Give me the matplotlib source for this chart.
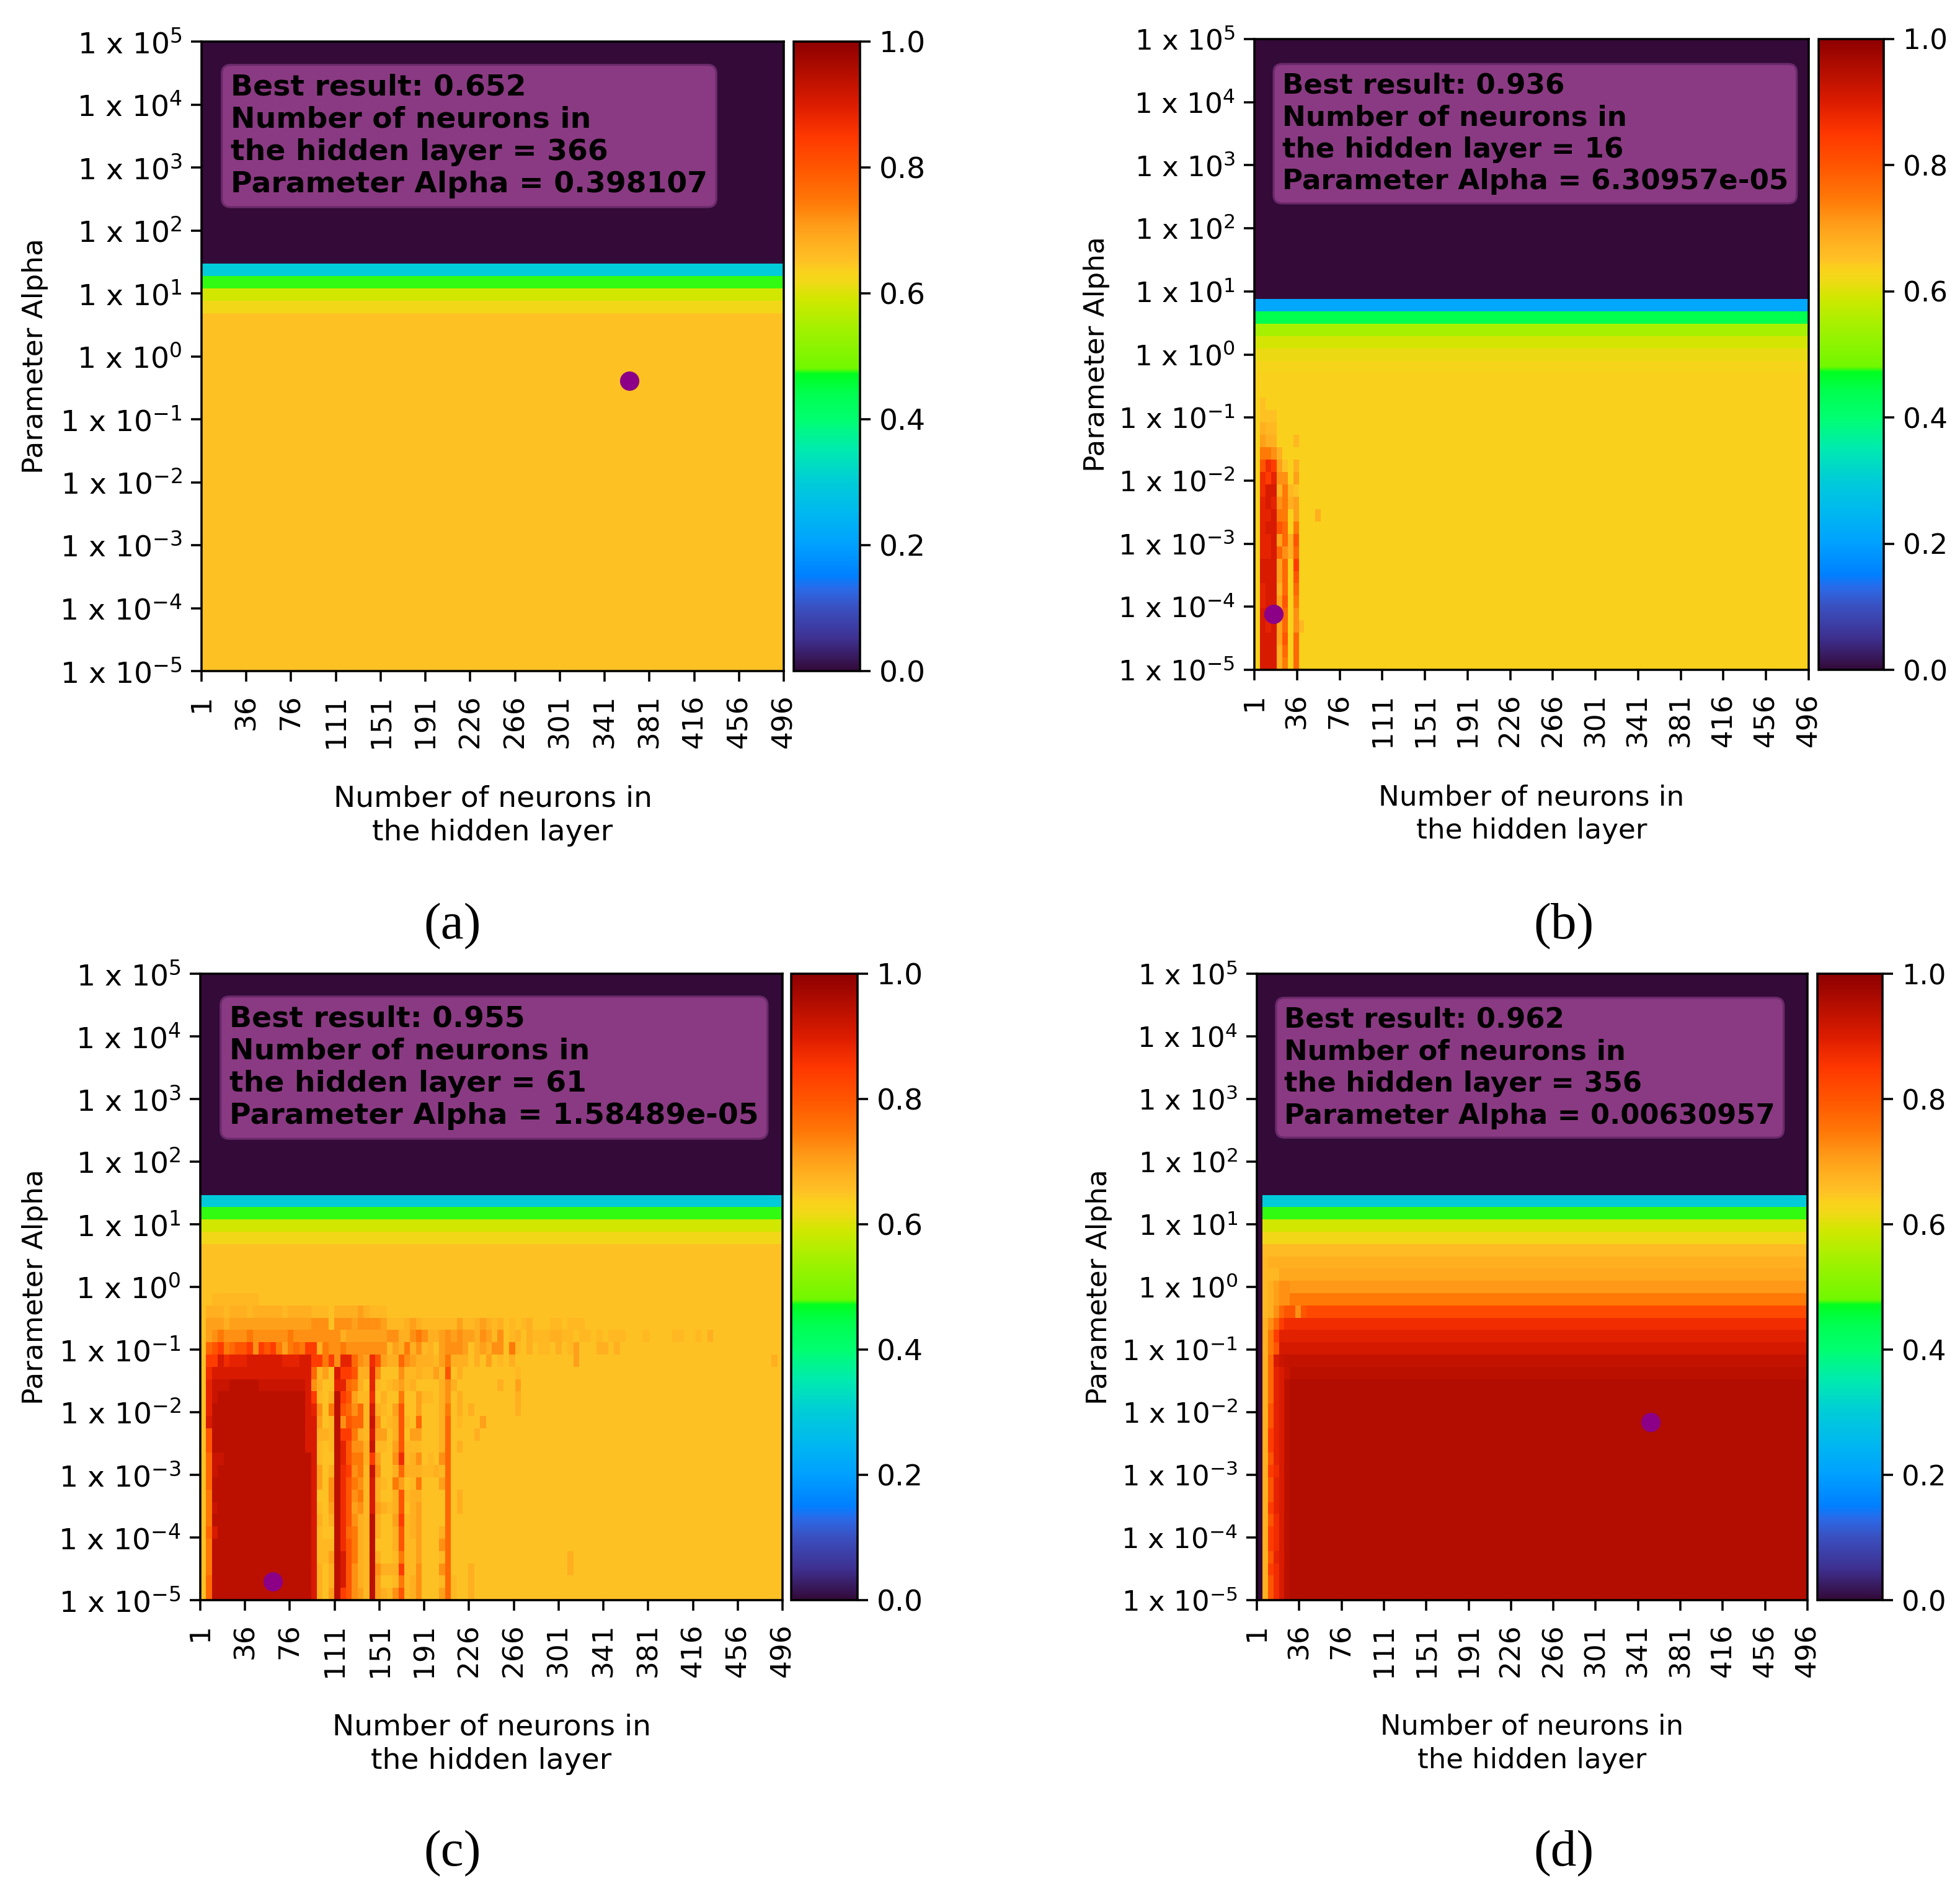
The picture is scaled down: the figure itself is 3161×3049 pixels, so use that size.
import matplotlib
matplotlib.use("Agg")
import matplotlib.pyplot as plt
from matplotlib.colors import LinearSegmentedColormap
import numpy as np

W, H = 3161, 3049

# heatmap axes: alpha 1e-5..1e5 in 51 rows, neurons 1..496 in 100 columns
tick_neurons = [1, 36, 76, 111, 151, 191, 226, 266, 301, 341, 381, 416, 456, 496]
tick_exponents = [-5, -4, -3, -2, -1, 0, 1, 2, 3, 4, 5]

# colour bar
cmap_stops = [(0.0, "#330a38"), (0.05, "#3e3090"), (0.1, "#3a50c0"), (0.13, "#2a6ae8"),
              (0.15, "#0080ff"), (0.2, "#00a0ff"), (0.25, "#00b8f0"), (0.3, "#00ccd8"),
              (0.35, "#00eab0"), (0.4, "#00ff70"), (0.44, "#00ff50"), (0.472, "#00ff20"),
              (0.48, "#70f800"), (0.55, "#a8f000"), (0.59, "#d0e800"), (0.62, "#f2d818"),
              (0.635, "#f9d21b"), (0.652, "#ffc125"), (0.68, "#ffb020"), (0.71, "#ff9a18"),
              (0.745, "#ff7a08"), (0.8, "#ff5500"), (0.85, "#ff3800"), (0.9, "#dc1c00"),
              (1.0, "#8e0000")]

# one char per cell in the blocks below, "." keeps the value of the whole row
codes = {"0": 0.0, "1": 0.652, "2": 0.665, "3": 0.68, "4": 0.70, "5": 0.72, "6": 0.745,
         "7": 0.77, "8": 0.80, "9": 0.84, "A": 0.87, "B": 0.885, "C": 0.905, "D": 0.925,
         "E": 0.94, "F": 0.953}

# value of each row from alpha 1e-5 upwards
rows_a = [0.652] * 29 + [0.62, 0.59, 0.476, 0.3] + [0.0] * 18
rows_b = [0.635] * 24 + [0.628, 0.615, 0.595, 0.55, 0.44, 0.215] + [0.0] * 21
rows_c = [0.652] * 29 + [0.62, 0.59, 0.476, 0.3] + [0.0] * 18
rows_d = [0.953] * 18 + [0.94, 0.93, 0.91, 0.89, 0.87, 0.82, 0.745, 0.71, 0.69, 0.68, 0.662,
                         0.62, 0.59, 0.476, 0.3] + [0.0] * 18

block_a = []

block_b = [
    ".CCC36.7",
    ".CCC37.7",
    ".CCC48.7",
    ".CBC47.52",
    ".CCC47.5",
    ".BCC48.6",
    ".BCC37.7",
    ".CCC47.8",
    ".CCC47.9",
    ".BBC7537",
    ".BBC4738",
    ".BCC87.6",
    ".BBC66.4...3",
    ".BCB5634",
    ".ACC3621",
    ".A9B55.4",
    ".8A941.3",
    ".6653",
    ".433...2",
    ".322",
    ".111",
    ".1",
]

block_c = [
    "17EEEEEEEEEEEEEEEEE" + "C314E98542E432582351114" + "72..3",
    "17EEEEEEEEEEEEEEEEE" + "C313EC8532E411262351112" + "72..3",
    "16EEEEEEEEEEEEEEEEE" + "C313EC8532E533392251115" + "7...3................3",
    "16EEEEEEEEEEEEEEEEE" + "C224EC8632E311262241112" + "7....................3",
    "16EEEEEEEEEEEEEEEEE" + "C222EA8632E111382241115" + "7",
    "17CEEEEEEEEEEEEEEEE" + "C211EA7632E311382341113" + "7",
    "16EEEEEEEEEEEEEEEEE" + "C313EA8532E311492341111" + "7",
    "16DEEEEEEEEEEEEEEEE" + "C214EA8452C432381341111" + "7.3",
    "16EEEEEEEEEEEEEEEEE" + "C115EA8562C311382331111" + "7.3",
    "17EEEEEEEEEEEEEEEEE" + "C415EA8652C321641261114" + "7",
    "17DEEEEEEEEEEEEEEEE" + "C413EA9562D511373332232" + "7",
    "17DDEEEEEEEEEEEEEEE" + "C211EB866394115A2351215" + "7",
    "18EEEEEEEEEEEEEEEEC" + "C212EB8553D221482221113" + "7.3",
    "18EEEEEEEEEEEEEEEEC" + "C332E99632C441381441113" + "7....3",
    "1CEEEEEEEEEEEEEEEEC" + "C412E58772D512382171113" + "7.2...4",
    "1BEEEEEEEEEEEEEEEEC" + "B516E87572C321481141113" + "6.3.3.......3",
    "1BDEEEEEEEEEEEEEEEC" + "9213E98422A131161142213" + "5.3.........3",
    "1BDDDEEEEEDDDDDDDDC" + "5311BB7631B212342311113" + "53.......3..4",
    "1ACCCCCCCCCCCCCCCCC" + "7241C99833B511152232242" + "8.3.........2",
    "199CABBBCCCCCCBBBCC" + "99695BB754A843375433324"
    + "6333.3.4.2.3..........4................................." + "3",
    "1789678895989646769" + "93655655555552436352314" + "5554.34355.62.3.22.3.24...33.3",
    "1456555565555556555" + "55555344444445533565334" + "54544354" + "25.23.3222" + "3322.22.2."
    + "222...2..." + ".22..2.3",
    "1444344444444444444" + "55515554555542223432222" + "2242234323.2.23...22.222",
    "1333233323333323333" + "2221333343222",
    "1.22222222",
]

block_d = [
    "038ACE", "038ACE", "039ACE", "038BCE", "039ACE", "039ACE", "038ACE",
    "039BCE", "038BCE", "038BCE", "039ACE", "038BCE", "039BCE", "039BCE",
    "038BCE", "038BCE", "037BCE", "037BCE", "037BCD", "037CD", "0368", "0369",
    "03579", "023578858", "02345566", "023455", "0222", "02", "0", "0", "0", "0", "0",
]

best_scores = ["0.652", "0.936", "0.955", "0.962"]
best_neurons = [366, 16, 61, 356]
best_alphas = ["0.398107", "6.30957e-05", "1.58489e-05", "0.00630957"]
panel_labels = ["(a)", "(b)", "(c)", "(d)"]

# pixel boxes left, right, top, bottom of heatmap and colour bar
boxes = [(325, 1264, 67, 1082), (2023, 2917, 63, 1080), (323, 1262, 1570, 2580), (2027, 2915, 1570, 2580)]
cbar_x = [(1280, 1387), (2933, 3038), (1276, 1383), (2931, 3036)]
ylabel_x = [78, 1790, 78, 1794]
label_pos = [(730, 1494), (2522, 1494), (730, 2989), (2522, 2989)]
marker_rows = [23, 4, 1, 14]
font_sizes = [11.35, 10.87, 11.35, 10.78]
box_spacing = [1.2, 1.25, 1.2, 1.26]
label_spacing = [1.26, 1.31, 1.26, 1.32]


def build_grid(row_values, block):
    grid = np.tile(np.array(row_values).reshape(-1, 1), (1, 100))
    for r, text in enumerate(block):
        for k, ch in enumerate(text):
            if ch != ".":
                grid[r, k] = codes[ch]
    return grid


cmap = LinearSegmentedColormap.from_list("result_map", cmap_stops, N=512)
plt.rcParams["axes.linewidth"] = 0.85
plt.rcParams["xtick.major.width"] = 0.85
plt.rcParams["ytick.major.width"] = 0.85
plt.rcParams["xtick.major.size"] = 4
plt.rcParams["ytick.major.size"] = 4

fig = plt.figure(figsize=(W / 300, H / 300), dpi=300)

panels = [(rows_a, block_a), (rows_b, block_b), (rows_c, block_c), (rows_d, block_d)]
for i, (row_values, block) in enumerate(panels):
    l, r, t, b = boxes[i]
    fs = font_sizes[i]
    ax = fig.add_axes([l / W, 1 - b / H, (r - l) / W, (b - t) / H])
    grid = build_grid(row_values, block)
    im = ax.imshow(grid, cmap=cmap, vmin=0, vmax=1, origin="lower", aspect="auto",
                   extent=(0, 100, 0, 51), interpolation="nearest")
    ax.set_xticks(np.linspace(0, 100, len(tick_neurons)))
    ax.set_xticklabels(tick_neurons, rotation=90, fontsize=10.9)
    ax.tick_params(axis="x", pad=5)
    ax.set_yticks(np.linspace(0, 51, len(tick_exponents)))
    ax.set_yticklabels([f"1 x $\\mathdefault{{10^{{{e}}}}}$" for e in tick_exponents], fontsize=fs)
    ax.set_xlabel("Number of neurons in\nthe hidden layer", va="top", fontsize=fs, linespacing=label_spacing[i])
    ax.xaxis.set_label_coords(0.5, -0.181)
    ax.set_ylabel("Parameter Alpha", fontsize=10.9)
    ax.yaxis.set_label_coords((ylabel_x[i] - l) / (r - l), 0.5)
    ax.scatter((best_neurons[i] - 1) / 5 + 0.5, marker_rows[i] + 0.5, s=42, color="#8c0087", zorder=3)
    ax.text(0.05, 0.85,
            f"Best result: {best_scores[i]}\nNumber of neurons in\n"
            f"the hidden layer = {best_neurons[i]}\nParameter Alpha = {best_alphas[i]}",
            transform=ax.transAxes, va="center", ha="left", weight="bold", fontsize=fs,
            linespacing=box_spacing[i],
            bbox=dict(boxstyle="round", fc="#8a3a82", ec="#6a2a6a", lw=0.8), zorder=4)

    cax = fig.add_axes([cbar_x[i][0] / W, 1 - b / H, (cbar_x[i][1] - cbar_x[i][0]) / W, (b - t) / H])
    cb = fig.colorbar(im, cax=cax)
    cb.set_ticks([0, 0.2, 0.4, 0.6, 0.8, 1.0])
    cb.ax.set_yticklabels(["0.0", "0.2", "0.4", "0.6", "0.8", "1.0"], fontsize=fs)

    fig.text(label_pos[i][0] / W, 1 - label_pos[i][1] / H, panel_labels[i], ha="center", va="center",
             family="Liberation Serif", fontsize=20)

fig.savefig("out.png", dpi=300)
